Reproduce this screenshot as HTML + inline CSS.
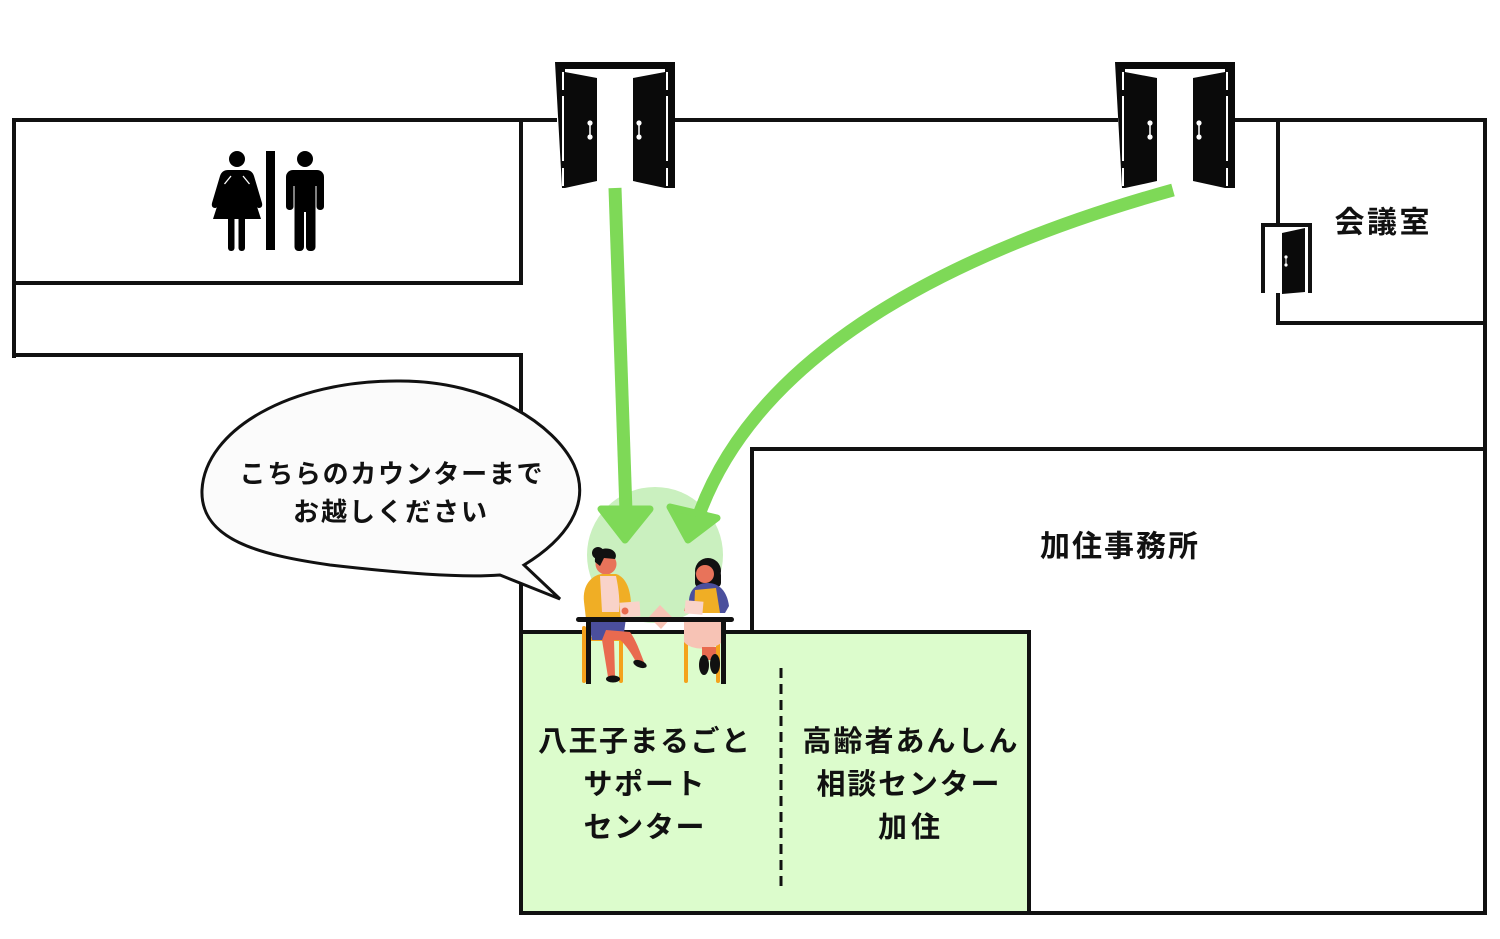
<!DOCTYPE html>
<html><head><meta charset="utf-8"><style>
html,body{margin:0;padding:0;background:#fff;}
svg{display:block;}
text{font-family:"Liberation Sans","Noto Sans CJK JP",sans-serif;font-weight:bold;fill:#111;}
</style></head><body>
<svg width="1500" height="939" viewBox="0 0 1500 939" xmlns="http://www.w3.org/2000/svg">
<rect width="1500" height="939" fill="#fff"/>

<!-- green service area -->
<rect x="521" y="632" width="508" height="281" fill="#dcfccc" stroke="#111" stroke-width="4"/>

<g stroke="#111" stroke-width="4" fill="none" stroke-linecap="square">
  <line x1="14" y1="120" x2="555" y2="120"/>
  <line x1="675" y1="120" x2="1116" y2="120"/>
  <line x1="1234" y1="120" x2="1485" y2="120"/>
  <line x1="14" y1="120" x2="14" y2="356"/>
  <line x1="521" y1="120" x2="521" y2="283"/>
  <line x1="14" y1="283" x2="521" y2="283"/>
  <line x1="14" y1="355" x2="521" y2="355"/>
  <line x1="521" y1="355" x2="521" y2="632"/>
  <line x1="1485" y1="120" x2="1485" y2="913"/>
  <line x1="752" y1="449" x2="1485" y2="449"/>
  <line x1="752" y1="449" x2="752" y2="632"/>
  <line x1="1029" y1="913" x2="1485" y2="913"/>
  <line x1="1278" y1="120" x2="1278" y2="225"/>
  <line x1="1278" y1="295" x2="1278" y2="323"/>
  <line x1="1278" y1="323" x2="1485" y2="323"/>
  <path d="M1263,293 V225 H1310 V293" stroke-linecap="butt"/>
</g>
<polygon points="1282,233 1305,228 1305,292 1282,294" fill="#0a0a0a"/>
<circle cx="1286" cy="257" r="1.6" fill="#fff"/>
<circle cx="1286" cy="265" r="1.6" fill="#fff"/>
<line x1="1286" y1="257" x2="1286" y2="265" stroke="#fff" stroke-width="1"/>

<!-- double doors -->
<g id="door">
  <path d="M555,62 H675 V188 H668 V69 H562 V188 Z" fill="#0a0a0a"/>
  <rect x="562" y="69" width="3" height="119" fill="#0a0a0a"/>
  <rect x="665" y="69" width="3" height="119" fill="#0a0a0a"/>
  <rect x="562" y="72" width="2" height="18" fill="#fff"/>
  <rect x="562" y="96" width="2" height="65" fill="#fff"/>
  <rect x="562" y="168" width="2" height="18" fill="#fff"/>
  <rect x="666" y="72" width="2" height="18" fill="#fff"/>
  <rect x="666" y="96" width="2" height="65" fill="#fff"/>
  <rect x="666" y="168" width="2" height="18" fill="#fff"/>
  <polygon points="565,72 597,78 597,181 565,188" fill="#0a0a0a"/>
  <polygon points="633,78 665,72 665,188 633,181" fill="#0a0a0a"/>
  <line x1="590" y1="123" x2="590" y2="137" stroke="#fff" stroke-width="1.5"/>
  <circle cx="590" cy="123" r="2.6" fill="#fff"/>
  <circle cx="590" cy="137" r="2.6" fill="#fff"/>
  <line x1="639" y1="123" x2="639" y2="137" stroke="#fff" stroke-width="1.5"/>
  <circle cx="639" cy="123" r="2.6" fill="#fff"/>
  <circle cx="639" cy="137" r="2.6" fill="#fff"/>
</g>
<use href="#door" transform="translate(560,0)"/>

<!-- toilet icon -->
<g fill="#000">
  <circle cx="237" cy="159" r="8"/>
  <path d="M228,170 H246 Q252,170 254,176 L262,203 Q263,208 259,208 Q257,208 256,205 L250,185 L261,219 H213 L224,185 L218,205 Q217,208 215,208 Q211,208 212,203 L220,176 Q222,170 228,170 Z"/>
  <line x1="224.5" y1="184" x2="231" y2="176" stroke="#fff" stroke-width="1.3"/>
  <line x1="249.5" y1="184" x2="243" y2="176" stroke="#fff" stroke-width="1.3"/>
  <rect x="228" y="214" width="6.5" height="37" rx="3"/>
  <rect x="238.5" y="214" width="6.5" height="37" rx="3"/>
  <rect x="266" y="151" width="9" height="99"/>
  <circle cx="305" cy="159" r="8"/>
  <rect x="286" y="170" width="38" height="16" rx="7"/>
  <rect x="286" y="176" width="7.5" height="34" rx="3.5"/>
  <rect x="316.5" y="176" width="7.5" height="34" rx="3.5"/>
  <rect x="294.5" y="176" width="21" height="36"/>
  <rect x="294.5" y="200" width="9.5" height="51" rx="4"/>
  <rect x="306" y="200" width="9.5" height="51" rx="4"/>
</g>

<!-- highlight circle -->
<circle cx="655" cy="555" r="68" fill="#caf0bf"/>

<!-- arrows -->
<g stroke="#7ed957" fill="none" stroke-width="13">
  <line x1="615" y1="188" x2="626" y2="512"/>
  <path d="M1173,190 C950,252 760,352 700,512"/>
</g>
<g fill="#7ed957" stroke="#7ed957" stroke-width="7" stroke-linejoin="round">
  <polygon points="601,509 650,509 625,540"/>
  <polygon points="670,507 717,518 688,540"/>
</g>

<!-- speech bubble -->
<path d="M500,575 L560,599 L524,565 C565,540 592,505 574,465 C555,425 490,381 400,381 C290,380 205,430 202,490 C200,540 260,555 330,565 C400,573 460,578 500,575 Z" fill="#fbfbfb" stroke="#111" stroke-width="3" stroke-linejoin="miter"/>

<!-- people illustration -->
<g>
  <g fill="#f4a21c">
    <rect x="582" y="626" width="4" height="57" rx="2"/>
    <rect x="619" y="638" width="4" height="45" rx="2"/>
    <rect x="582" y="637" width="42" height="4" rx="2"/>
    <rect x="684" y="640" width="4" height="43" rx="2"/>
    <rect x="716" y="640" width="4" height="43" rx="2"/>
    <rect x="684" y="640" width="36" height="4" rx="2"/>
  </g>
  <!-- woman 1 -->
  <circle cx="598" cy="553" r="6" fill="#111"/>
  <circle cx="606" cy="564" r="10.5" fill="#e8735a"/>
  <path d="M595,562 C594,551 602,547 610,549 C616,551 617,556 615,559 L604,558 L600,566 Z" fill="#111"/>
  <path d="M584,602 C582,585 592,575 602,574 L616,574 C626,577 631,590 631,606 L628,619 L586,619 Z" fill="#f0ae25"/>
  <path d="M600,576 L616,576 C619,590 620,603 619,612 L602,612 Z" fill="#f9d3c9"/>
  <path d="M588,618 L626,618 L623,640 L592,640 Z" fill="#4b4f9c"/>
  <path d="M606,630 L630,632 C636,640 640,652 644,662 L637,664 C632,654 626,645 620,640 L614,640 L615,676 L608,677 L602,640 Z" fill="#e96a4f"/>
  <ellipse cx="640" cy="664" rx="7" ry="3.5" fill="#111" transform="rotate(20 640 664)"/>
  <ellipse cx="613" cy="679" rx="7" ry="3.5" fill="#111"/>
  <rect x="620" y="602" width="20" height="15" fill="#f9d3c9" transform="rotate(-4 630 609)"/>
  <circle cx="625" cy="611" r="3.5" fill="#e96a4f"/>
  <polygon points="660,605 672,617 661,629 649,617" fill="#f7c3b5"/>
  <!-- woman 2 -->
  <circle cx="708" cy="571" r="13" fill="#111"/>
  <rect x="695" y="571" width="26" height="16" fill="#111" rx="4"/>
  <circle cx="705" cy="574" r="9" fill="#e8735a"/>
  <path d="M689,600 C690,588 698,583 708,583 C719,583 727,591 729,606 L725,613 L689,613 Z" fill="#4b4f9c"/>
  <path d="M695,590 L716,588 L720,613 L694,613 Z" fill="#f0ae25"/>
  <path d="M686,604 L700,608 L699,613 L684,611 Z" fill="#e96a4f"/>
  <rect x="685" y="601" width="18" height="13" fill="#f9d3c9" transform="rotate(5 694 607)"/>
  <path d="M684,622 L724,622 L723,641 C715,651 691,651 684,642 Z" fill="#f7c3b5"/>
  <path d="M702,647 L716,647 L716,660 L702,660 Z" fill="#e96a4f"/>
  <ellipse cx="704" cy="665" rx="5" ry="10" fill="#111"/>
  <ellipse cx="715" cy="664" rx="5" ry="10" fill="#111"/>
  <rect x="576" y="617" width="158" height="5" rx="2.5" fill="#111"/>
  <rect x="586" y="620" width="5" height="64" fill="#111"/>
  <rect x="721" y="620" width="5" height="64" fill="#111"/>
</g>

<!-- dashed divider -->
<line x1="781" y1="668" x2="781" y2="890" stroke="#111" stroke-width="3" stroke-dasharray="10,6"/>

<!-- texts -->
<g dominant-baseline="central" text-anchor="middle">
  <text x="391" y="474" font-size="26" textLength="303" lengthAdjust="spacing">こちらのカウンターまで</text>
  <text x="390" y="512" font-size="26" textLength="194" lengthAdjust="spacing">お越しください</text>
  <text x="644" y="742" font-size="29" textLength="212" lengthAdjust="spacing">八王子まるごと</text>
  <text x="644" y="785" font-size="29" textLength="121" lengthAdjust="spacing">サポート</text>
  <text x="644" y="828" font-size="29" textLength="121" lengthAdjust="spacing">センター</text>
  <text x="910" y="742" font-size="29" textLength="215" lengthAdjust="spacing">高齢者あんしん</text>
  <text x="908" y="785" font-size="29" textLength="183" lengthAdjust="spacing">相談センター</text>
  <text x="909" y="828" font-size="29" textLength="62" lengthAdjust="spacing">加住</text>
  <text x="1119" y="547" font-size="30" textLength="158" lengthAdjust="spacing">加住事務所</text>
  <text x="1382" y="223" font-size="30" textLength="95" lengthAdjust="spacing">会議室</text>
</g>
</svg>
</body></html>
